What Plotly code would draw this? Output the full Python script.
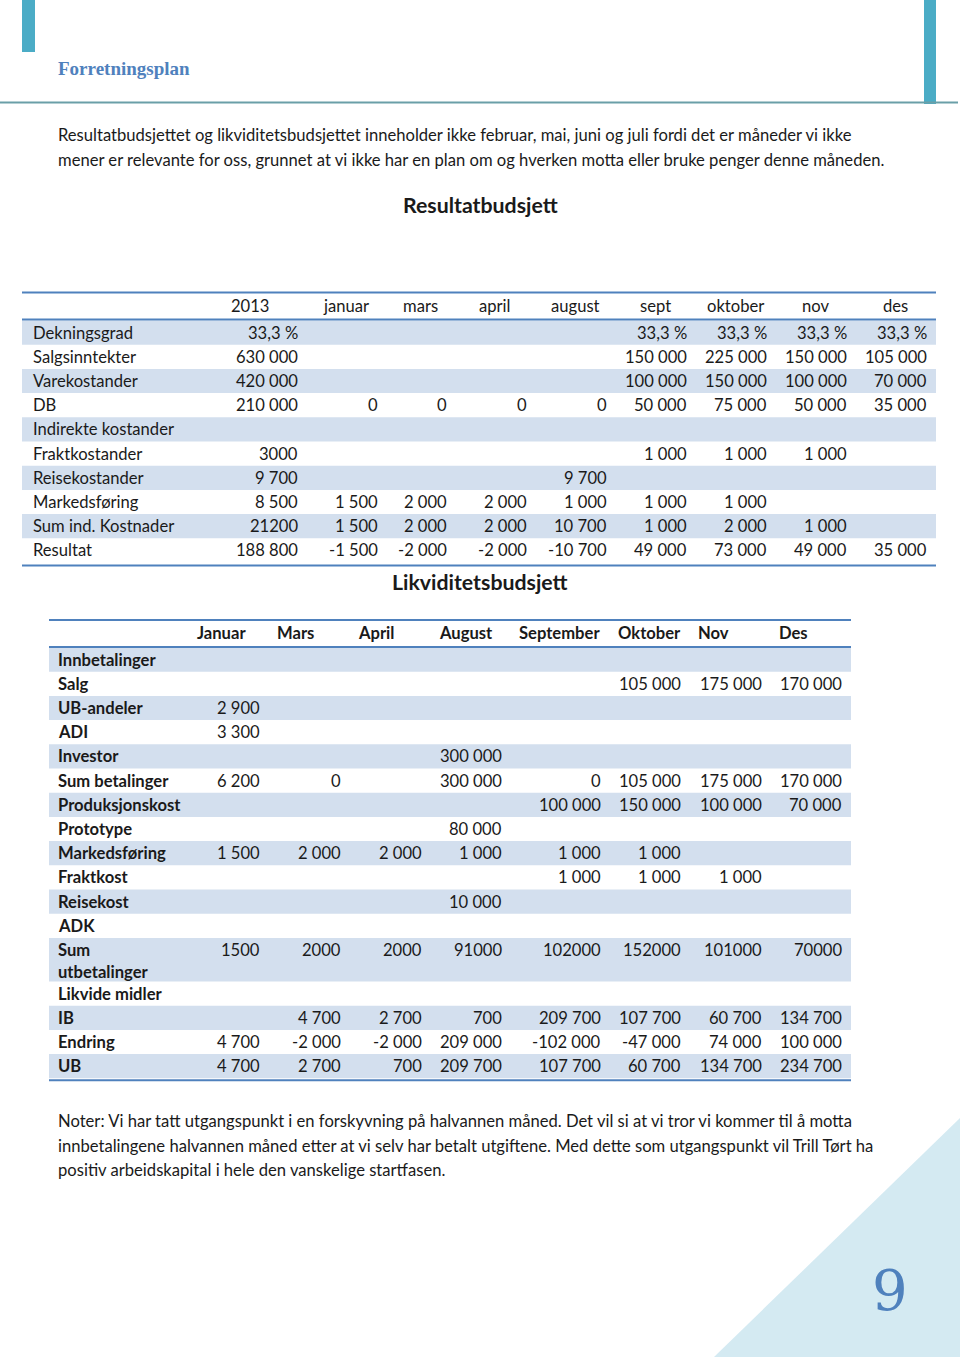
import plotly.graph_objs as go

# ---- page text ----
header_title = "Forretningsplan"
intro_lines = [
    "Resultatbudsjettet og likviditetsbudsjettet inneholder ikke februar, mai, juni og juli fordi det er måneder vi ikke",
    "mener er relevante for oss, grunnet at vi ikke har en plan om og hverken motta eller bruke penger denne måneden.",
]
note_lines = [
    "Noter: Vi har tatt utgangspunkt i en forskyvning på halvannen måned. Det vil si at vi tror vi kommer til å motta",
    "innbetalingene halvannen måned etter at vi selv har betalt utgiftene. Med dette som utgangspunkt vil Trill Tørt ha",
    "positiv arbeidskapital i hele den vanskelige startfasen.",
]
page_number = "9"

# ---- Resultatbudsjett ----
res_title = "Resultatbudsjett"
res_columns = ["2013", "januar", "mars", "april", "august", "sept", "oktober", "nov", "des"]
res_rows = ["Dekningsgrad", "Salgsinntekter", "Varekostander", "DB", "Indirekte kostander",
            "Fraktkostander", "Reisekostander", "Markedsføring", "Sum ind. Kostnader", "Resultat"]
res_values = [
    ["33,3 %", "", "", "", "", "33,3 %", "33,3 %", "33,3 %", "33,3 %"],
    ["630 000", "", "", "", "", "150 000", "225 000", "150 000", "105 000"],
    ["420 000", "", "", "", "", "100 000", "150 000", "100 000", "70 000"],
    ["210 000", "0", "0", "0", "0", "50 000", "75 000", "50 000", "35 000"],
    ["", "", "", "", "", "", "", "", ""],
    ["3000", "", "", "", "", "1 000", "1 000", "1 000", ""],
    ["9 700", "", "", "", "9 700", "", "", "", ""],
    ["8 500", "1 500", "2 000", "2 000", "1 000", "1 000", "1 000", "", ""],
    ["21200", "1 500", "2 000", "2 000", "10 700", "1 000", "2 000", "1 000", ""],
    ["188 800", "-1 500", "-2 000", "-2 000", "-10 700", "49 000", "73 000", "49 000", "35 000"],
]

# ---- Likviditetsbudsjett ----
liq_title = "Likviditetsbudsjett"
liq_columns = ["Januar", "Mars", "April", "August", "September", "Oktober", "Nov", "Des"]
liq_rows = ["Innbetalinger", "Salg", "UB-andeler", "ADI", "Investor", "Sum betalinger",
            "Produksjonskost", "Prototype", "Markedsføring", "Fraktkost", "Reisekost", "ADK",
            "Sum<br>utbetalinger", "Likvide midler", "IB", "Endring", "UB"]
liq_values = [
    ["", "", "", "", "", "", "", ""],
    ["", "", "", "", "", "105 000", "175 000", "170 000"],
    ["2 900", "", "", "", "", "", "", ""],
    ["3 300", "", "", "", "", "", "", ""],
    ["", "", "", "300 000", "", "", "", ""],
    ["6 200", "0", "", "300 000", "0", "105 000", "175 000", "170 000"],
    ["", "", "", "", "100 000", "150 000", "100 000", "70 000"],
    ["", "", "", "80 000", "", "", "", ""],
    ["1 500", "2 000", "2 000", "1 000", "1 000", "1 000", "", ""],
    ["", "", "", "", "1 000", "1 000", "1 000", ""],
    ["", "", "", "10 000", "", "", "", ""],
    ["", "", "", "", "", "", "", ""],
    ["1500", "2000", "2000", "91000", "102000", "152000", "101000", "70000"],
    ["", "", "", "", "", "", "", ""],
    ["", "4 700", "2 700", "700", "209 700", "107 700", "60 700", "134 700"],
    ["4 700", "-2 000", "-2 000", "209 000", "-102 000", "-47 000", "74 000", "100 000"],
    ["4 700", "2 700", "700", "209 700", "107 700", "60 700", "134 700", "234 700"],
]

W, H = 960, 1357
FONT = "Lato"
FS = 16.6
TXT = "#1a1a1a"
BAND = "#D3DFEE"
RULE = "#4F81BD"
ROW_H = 24.2

shapes = []
ann = []


def text(x, y, s, anchor="left", size=FS, bold=False, color=TXT, family=FONT):
    if bold:
        s = "<b>" + s + "</b>"
    ann.append(dict(x=x, y=y, xref="x", yref="y", text=s, showarrow=False,
                    xanchor=anchor, yanchor="middle", borderpad=0, borderwidth=0,
                    font=dict(family=family, size=size, color=color)))


def rect(x0, y0, x1, y1, color):
    shapes.append(dict(type="rect", xref="x", yref="y", x0=x0, y0=y0, x1=x1, y1=y1,
                       fillcolor=color, line=dict(width=0), layer="below"))


def hline(x0, x1, y, color=RULE, width=2):
    shapes.append(dict(type="line", xref="x", yref="y", x0=x0, x1=x1, y0=y, y1=y,
                       line=dict(color=color, width=width)))


# page decoration
rect(22, 0, 35, 52, "#4BACC6")
rect(924, 0, 936, 104, "#4BACC6")
hline(0, 958, 102.5, color="#6A9FA8", width=2)
shapes.append(dict(type="path", xref="x", yref="y", path="M 960 1118 L 960 1357 L 714 1357 Z",
                   fillcolor="#D4EAF2", line=dict(width=0), layer="below"))
text(58, 68, header_title, size=19, bold=True, color="#4F81BD", family="Liberation Serif")
text(890, 1290, page_number, anchor="center", size=56, color="#4F81BD", family="DejaVu Serif")

for i, line in enumerate(intro_lines):
    text(58, 135 + i * 25, line)
for i, line in enumerate(note_lines):
    text(58, 1121 + i * 24.7, line)

# ---- table 1 ----
t1_left, t1_right = 22, 936
t1_edges = [194, 306, 386, 455, 535, 615, 695, 775, 855, 935]
text(480, 205, res_title, anchor="center", size=21.3, bold=True)
hline(t1_left, t1_right, 292.5)
hline(t1_left, t1_right, 319.5)
for j, col in enumerate(res_columns):
    text((t1_edges[j] + t1_edges[j + 1]) / 2, 305.5, col, anchor="center")
top = 320.5
for i, label in enumerate(res_rows):
    if i % 2 == 0:
        rect(t1_left, top, t1_right, top + ROW_H, BAND)
    cy = top + ROW_H / 2
    text(33, cy, label)
    for j, v in enumerate(res_values[i]):
        if v:
            text(t1_edges[j + 1] - 8, cy, v, anchor="right")
    top += ROW_H
hline(t1_left, t1_right, top + 3)

# ---- table 2 ----
t2_left, t2_right = 49, 851
t2_edges = [188, 268, 349, 430, 510, 609, 689, 770, 850]
text(480, 582, liq_title, anchor="center", size=21.3, bold=True)
hline(t2_left, t2_right, 620)
hline(t2_left, t2_right, 647)
for j, col in enumerate(liq_columns):
    text(t2_edges[j] + 9, 632.5, col, bold=True)
top = 647.5
for i, label in enumerate(liq_rows):
    parts = label.split("<br>")
    h = ROW_H if len(parts) == 1 else 43.6
    if i % 2 == 0:
        rect(t2_left, top, t2_right, top + h, BAND)
    cy = top + ROW_H / 2
    for k, p in enumerate(parts):
        text(58, cy + k * 22, p, bold=True)
    for j, v in enumerate(liq_values[i]):
        if v:
            text(t2_edges[j + 1] - 8, cy, v, anchor="right")
    top += h
hline(t2_left, t2_right, top + 2)

fig = go.Figure()
fig.add_trace(go.Scatter(x=[0, W], y=[0, H], mode="markers", marker=dict(opacity=0),
                         hoverinfo="skip", showlegend=False))
fig.update_layout(
    width=W, height=H, margin=dict(l=0, r=0, t=0, b=0),
    paper_bgcolor="white", plot_bgcolor="white",
    xaxis=dict(range=[0, W], visible=False, fixedrange=True),
    yaxis=dict(range=[H, 0], visible=False, fixedrange=True),
    shapes=shapes, annotations=ann, showlegend=False,
)
fig.write_html("out.html", config={"displayModeBar": False},
               post_script="document.body.style.margin='0';document.body.style.overflow='hidden';")
